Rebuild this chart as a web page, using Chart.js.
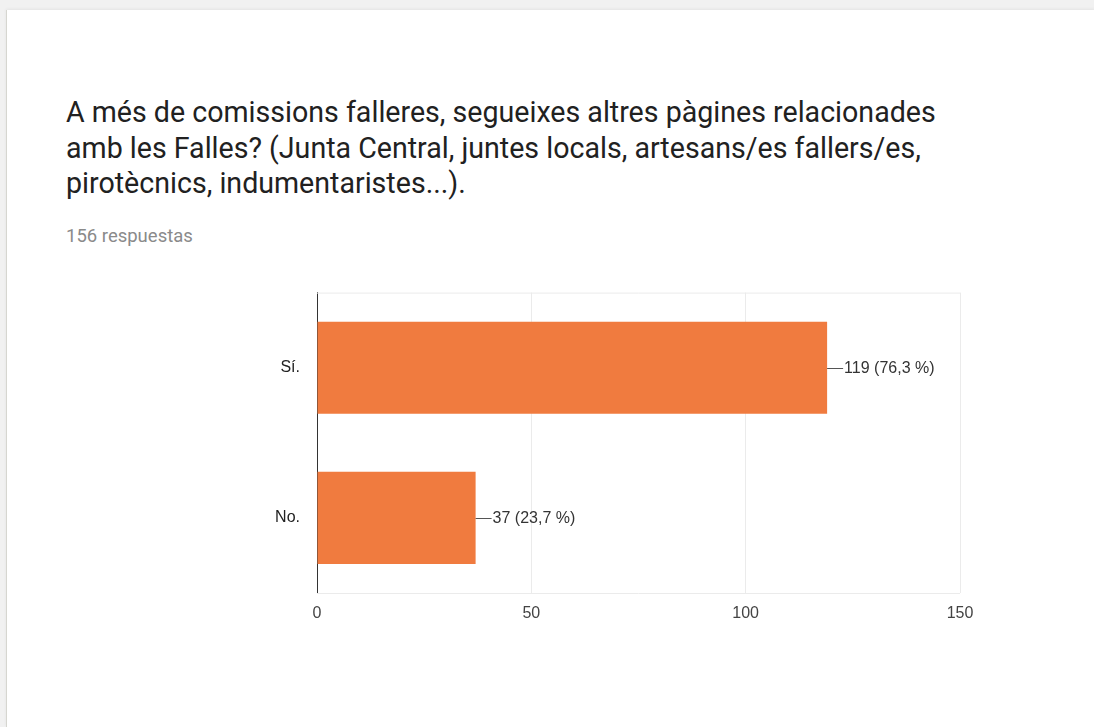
<!DOCTYPE html>
<html>
<head>
<meta charset="utf-8">
<script src="https://cdn.jsdelivr.net/npm/chart.js@4"></script>
<style>
  html, body { margin: 0; padding: 0; width: 1094px; height: 727px; overflow: hidden; background: #f1f1f1; }
  .card { position: absolute; left: 6px; top: 10px; width: 1088px; height: 717px; background: #fff; border-left: 1px solid #d6d6d0; box-shadow: 0 -1px 3px rgba(0,0,0,0.06); }
  .title { position: absolute; left: 59px; top: 85px; font-family: Roboto, sans-serif; font-size: 28.6px; line-height: 35.5px; color: #212121; white-space: nowrap; }
  .count { position: absolute; left: 59px; top: 215px; font-family: Roboto, sans-serif; font-size: 18.5px; color: #8a8a8a; }
  #wrap { position: absolute; left: -7px; top: 256px; width: 1094px; height: 370px; }
</style>
</head>
<body>
<div class="card">
  <div class="title">A més de comissions falleres, segueixes altres pàgines relacionades<br>amb les Falles? (Junta Central, juntes locals, artesans/es fallers/es,<br>pirotècnics, indumentaristes...).</div>
  <div class="count" id="count"></div>
  <div id="wrap"><canvas id="respChart"></canvas></div>
</div>
<script>
// answers and counts
let answers = ["Sí.", "No."];
let counts = [119, 37];
let xTicks = [0, 50, 100, 150];

let total = counts.reduce((a, b) => a + b, 0);
document.getElementById("count").textContent = total + " respuestas";

const chartFont = "'Liberation Sans', Arial, sans-serif";

function pctLabel(v) {
    return v + " (" + (v / total * 100).toFixed(1).replace(".", ",") + " %)";
}

// faint frame on top and bottom of the plot area
const frameLines = {
    id: "frameLines",
    beforeDatasetsDraw(chart) {
        const a = chart.chartArea, c = chart.ctx;
        c.save();
        c.strokeStyle = "#ebebeb";
        c.lineWidth = 1;
        c.beginPath();
        c.moveTo(a.left, a.top + 0.5); c.lineTo(a.right, a.top + 0.5);
        c.moveTo(a.left, a.bottom + 0.5); c.lineTo(a.right, a.bottom + 0.5);
        c.stroke();
        c.restore();
    }
};

// value labels with a short leader line after each bar
const valueLabels = {
    id: "valueLabels",
    afterDatasetsDraw(chart) {
        const c = chart.ctx;
        const meta = chart.getDatasetMeta(0);
        c.save();
        c.font = "16px " + chartFont;
        c.textBaseline = "middle";
        meta.data.forEach((bar, i) => {
            const y = Math.round(bar.y) + 0.5;
            c.strokeStyle = "#555";
            c.lineWidth = 1;
            c.beginPath();
            c.moveTo(bar.x, y);
            c.lineTo(bar.x + 16, y);
            c.stroke();
            c.fillStyle = "#333";
            c.fillText(pctLabel(counts[i]), bar.x + 17, y);
        });
        c.restore();
    }
};

const ctx = document.getElementById("respChart");
let barChart = new Chart(ctx, {
    type: "bar",
    data: {
        labels: answers,
        datasets: [{
            data: counts,
            backgroundColor: "#f07b3f",
            barPercentage: 0.613,
            categoryPercentage: 1
        }]
    },
    options: {
        indexAxis: "y",
        responsive: true,
        maintainAspectRatio: false,
        animation: false,
        layout: { padding: { top: 11, left: 217, right: 134, bottom: 13 } },
        plugins: { legend: { display: false }, tooltip: { enabled: false } },
        scales: {
            x: {
                min: 0,
                max: 150,
                afterBuildTicks: (scale) => { scale.ticks = xTicks.map(v => ({ value: v })); },
                afterFit: (scale) => { scale.height = 30; },
                grid: { color: "#ebebeb", drawTicks: false },
                border: { display: false },
                ticks: {
                    padding: 11,
                    color: "#444",
                    font: { family: chartFont, size: 16 }
                }
            },
            y: {
                afterFit: (scale) => { scale.width = 100; },
                grid: { display: false, drawTicks: false },
                border: { display: true, color: "#333", width: 1 },
                ticks: {
                    padding: 17,
                    color: "#222",
                    font: { family: chartFont, size: 16 }
                }
            }
        }
    },
    plugins: [frameLines, valueLabels]
});
</script>
</body>
</html>
